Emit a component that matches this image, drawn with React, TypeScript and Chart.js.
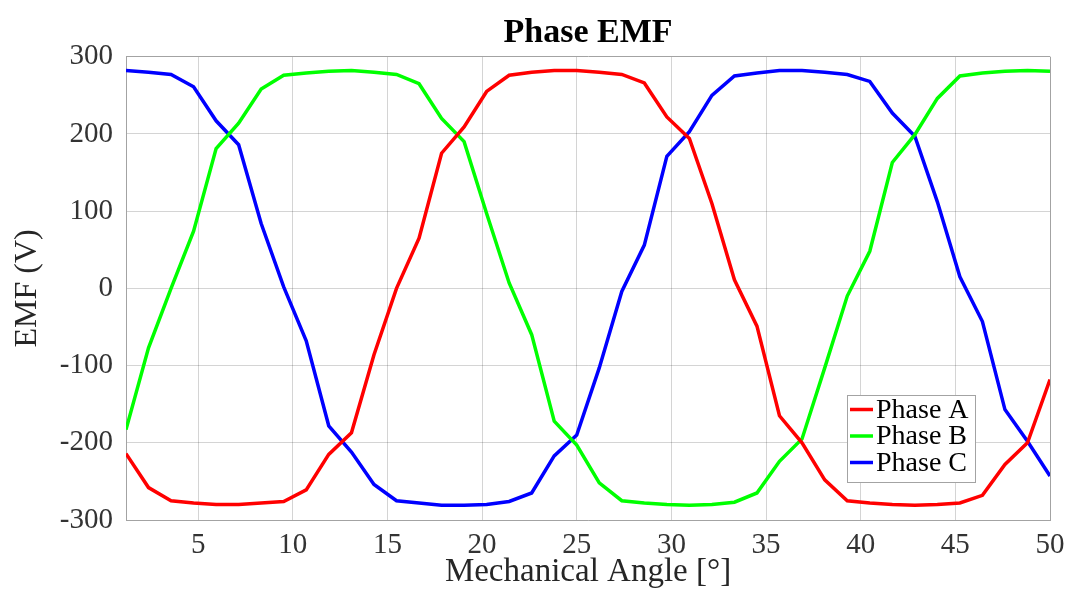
import React, { useEffect, useRef } from "react";
import { Chart, registerables } from "chart.js";

Chart.register(...registerables);

// Mechanical angle samples (degrees)
const angles = [
  1.19, 2.38, 3.57, 4.76, 5.95, 7.14, 8.33, 9.52, 10.71, 11.9,
  13.1, 14.29, 15.48, 16.67, 17.86, 19.05, 20.24, 21.43, 22.62, 23.81,
  25.0, 26.19, 27.38, 28.57, 29.76, 30.95, 32.14, 33.33, 34.52, 35.71,
  36.9, 38.1, 39.29, 40.48, 41.67, 42.86, 44.05, 45.24, 46.43, 47.62,
  48.81, 50.0,
];

// Phase EMF values (V)
const phaseA = [
  -214, -258, -275, -278, -280, -280, -278, -276, -261, -215,
  -187, -86, 0, 65, 175, 209, 255, 276, 280, 282,
  282, 280, 277, 266, 222, 194, 110, 11, -49, -165,
  -200, -248, -275, -278, -280, -281, -280, -278, -268, -228,
  -200, -118,
];
const phaseB = [
  -183, -77, 0, 74, 181, 214, 258, 276, 279, 281,
  282, 280, 277, 265, 220, 190, 97, 7, -60, -172,
  -203, -252, -275, -278, -280, -281, -280, -277, -265, -224,
  -195, -103, -10, 48, 163, 199, 246, 275, 279, 281,
  282, 281,
];
const phaseC = [
  282, 280, 277, 261, 217, 186, 84, 2, -68, -178,
  -212, -254, -275, -278, -281, -281, -280, -276, -265, -217,
  -190, -103, -4, 56, 171, 203, 250, 275, 279, 282,
  282, 280, 277, 268, 227, 197, 112, 15, -43, -157,
  -198, -243,
];

const seriesNames = ["Phase A", "Phase B", "Phase C"];
const seriesColors = ["#ff0000", "#00ff00", "#0000ff"];
const xTicks = [5, 10, 15, 20, 25, 30, 35, 40, 45, 50];
const yTicks = [-300, -200, -100, 0, 100, 200, 300];

const FONT = '"Liberation Serif", "Times New Roman", serif';
const GRID = "rgba(0,0,0,0.17)";
const FRAME = "#a3a3a3";

const insideLegend = {
  id: "insideLegend",
  afterDatasetsDraw(chart: any) {
    const { ctx, chartArea } = chart;
    const x0 = Math.round(chartArea.right - 203);
    const y0 = Math.round(chartArea.bottom - 125);
    const w = 128;
    const h = 87;
    ctx.save();
    ctx.fillStyle = "#ffffff";
    ctx.fillRect(x0, y0, w, h);
    ctx.strokeStyle = FRAME;
    ctx.lineWidth = 1;
    ctx.strokeRect(x0 + 0.5, y0 + 0.5, w, h);
    ctx.font = `28px ${FONT}`;
    ctx.textBaseline = "middle";
    ctx.textAlign = "left";
    chart.data.datasets.forEach((ds: any, i: number) => {
      const y = y0 + 14.5 + i * 26.5;
      ctx.strokeStyle = ds.borderColor;
      ctx.lineWidth = 3.5;
      ctx.beginPath();
      ctx.moveTo(x0 + 3, y);
      ctx.lineTo(x0 + 26, y);
      ctx.stroke();
      ctx.fillStyle = "#000000";
      ctx.fillText(ds.label, x0 + 29, y + 1);
    });
    ctx.restore();
  },
};

export default function App() {
  const canvasRef = useRef<HTMLCanvasElement | null>(null);

  useEffect(() => {
    if (!canvasRef.current) return;
    const series = [phaseA, phaseB, phaseC];
    const chart = new Chart(canvasRef.current, {
      type: "line",
      data: {
        datasets: series.map((vals, i) => ({
          label: seriesNames[i],
          data: angles.map((x, j) => ({ x, y: vals[j] })),
          borderColor: seriesColors[i],
          backgroundColor: seriesColors[i],
          borderWidth: 3.5,
          pointRadius: 0,
          tension: 0,
          fill: false,
        })),
      },
      options: {
        animation: false,
        responsive: false,
        devicePixelRatio: 1,
        layout: { padding: { left: 0, right: 23, top: 0, bottom: 0 } },
        plugins: {
          legend: { display: false },
          tooltip: { enabled: false },
          title: {
            display: true,
            fullSize: false,
            text: "Phase EMF",
            color: "#000000",
            font: { family: FONT, size: 34, weight: "bold" },
            padding: { top: 13, bottom: 2.9 },
          },
        },
        scales: {
          x: {
            type: "linear",
            min: angles[0],
            max: angles[angles.length - 1],
            afterBuildTicks: (s: any) => {
              s.ticks = xTicks.map((v) => ({ value: v }));
            },
            afterFit: (s: any) => {
              s.height = 72;
            },
            grid: {
              drawTicks: false,
              lineWidth: 1,
              color: (c: any) => (c.tick && c.tick.value === 50 ? FRAME : GRID),
            },
            border: { color: FRAME, width: 1 },
            ticks: {
              autoSkip: false,
              maxRotation: 0,
              padding: 8,
              color: "#333333",
              font: { family: FONT, size: 29 },
            },
            title: {
              display: true,
              text: "Mechanical Angle [°]",
              color: "#262626",
              font: { family: FONT, size: 33 },
              padding: { top: 0, bottom: 0 },
            },
          },
          y: {
            type: "linear",
            min: yTicks[0],
            max: yTicks[yTicks.length - 1],
            afterBuildTicks: (s: any) => {
              s.ticks = yTicks.map((v) => ({ value: v }));
            },
            afterFit: (s: any) => {
              s.width = 126;
            },
            grid: {
              drawTicks: false,
              lineWidth: 1,
              color: (c: any) => (c.tick && c.tick.value === 300 ? FRAME : GRID),
            },
            border: { color: FRAME, width: 1 },
            ticks: {
              padding: 13,
              color: "#333333",
              font: { family: FONT, size: 29 },
            },
            title: {
              display: true,
              text: "EMF (V)",
              color: "#262626",
              font: { family: FONT, size: 32 },
              padding: { top: 8, bottom: 0 },
            },
          },
        },
      },
      plugins: [insideLegend],
    });
    return () => chart.destroy();
  }, []);

  return (
    <div style={{ position: "absolute", left: 0, top: 0, width: 1073, height: 592, background: "#ffffff" }}>
      <canvas ref={canvasRef} width={1073} height={592} style={{ width: 1073, height: 592 }} />
    </div>
  );
}
